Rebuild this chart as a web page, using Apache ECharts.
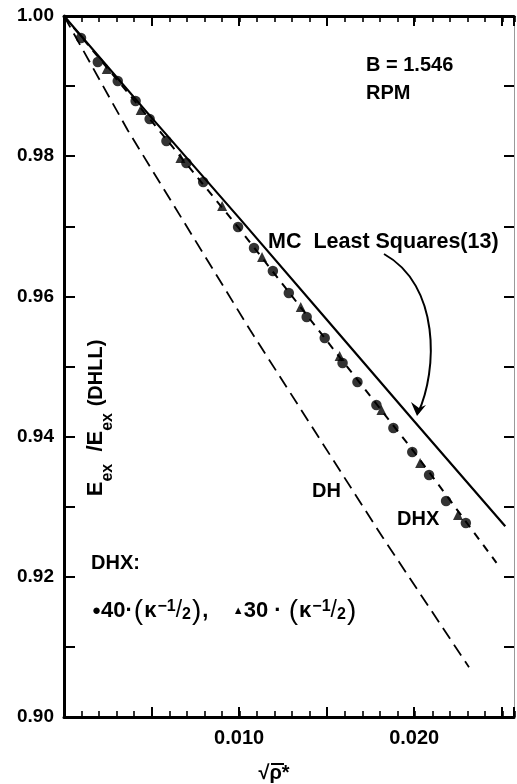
<!DOCTYPE html>
<html>
<head>
<meta charset="utf-8">
<script src="https://cdn.jsdelivr.net/npm/echarts@6/dist/echarts.min.js"></script>
<style>
  html, body { margin: 0; padding: 0; background: #fff; }
  #main { width: 517px; height: 784px; }
</style>
</head>
<body>
<div id="main"></div>
<script>
// values
const mcX = [0, 0.005, 0.010, 0.015, 0.020, 0.0252];
const mcY = [1.0, 0.9855, 0.9712, 0.9567, 0.9422, 0.9272];

const dhX = [0, 0.00364, 0.00818, 0.01063, 0.01818, 0.02313];
const dhY = [1.0, 0.9837, 0.9652, 0.9552, 0.9257, 0.9071];

const dhxX = [0, 0.005, 0.010, 0.015, 0.020, 0.0247];
const dhxY = [1.0, 0.9850, 0.9697, 0.9537, 0.9378, 0.9220];

// 40 (kappa^-1/2) points
const dotX = [0.00097, 0.00193, 0.00307, 0.00409, 0.00489, 0.00585, 0.00699, 0.00795,
  0.00994, 0.01085, 0.01193, 0.01284, 0.01386, 0.01489, 0.01591, 0.01676,
  0.01784, 0.01881, 0.01989, 0.02085, 0.02182, 0.02295];
const dotY = [0.99686, 0.99344, 0.99073, 0.98787, 0.98531, 0.98217, 0.97903, 0.97632,
  0.96990, 0.96690, 0.96362, 0.96049, 0.95706, 0.95407, 0.95050, 0.94779,
  0.94451, 0.94123, 0.93780, 0.93452, 0.93081, 0.92767];

// 30 (kappa^-1/2) points
const triX = [0.00244, 0.00438, 0.00665, 0.00903, 0.01131, 0.01352, 0.01574, 0.01813, 0.02034, 0.0225];
const triY = [0.99244, 0.98659, 0.97974, 0.97290, 0.96562, 0.95849, 0.95150, 0.94380, 0.93623, 0.92882];

const xTickLabels = ['0.010', '0.020'];
const yTickLabels = ['0.90', '0.92', '0.94', '0.96', '0.98', '1.00'];

const zip = (xs, ys) => xs.map((x, i) => [x, ys[i]]);

const FONT = '"Liberation Sans", Arial, sans-serif';
const gridBox = { left: 64, right: 2, top: 16, bottom: 67 };

const chart = echarts.init(document.getElementById('main'));

const xMajor = (pos, withLabels) => ({
  type: 'value', gridIndex: 0, position: pos, min: 0, max: 0.0257, interval: 0.005,
  splitLine: { show: false },
  axisLine: { onZero: false, lineStyle: { color: '#000', width: 3 } },
  axisTick: { inside: true, length: 10, lineStyle: { color: '#000', width: 2 } },
  axisLabel: {
    show: withLabels, margin: 11, color: '#000', fontSize: 20, fontWeight: 'bold', fontFamily: FONT,
    formatter: v => xTickLabels.includes(v.toFixed(3)) ? v.toFixed(3) : ''
  }
});
const xMinor = pos => ({
  type: 'value', gridIndex: 1, position: pos, min: 0, max: 0.0257, interval: 0.001,
  splitLine: { show: false },
  axisLine: { show: false, onZero: false },
  axisTick: { inside: true, length: 6, lineStyle: { color: '#000', width: 1.6 } },
  axisLabel: { show: false }
});

const option = {
  animation: false,
  backgroundColor: '#fff',
  grid: [Object.assign({}, gridBox), Object.assign({}, gridBox)],
  xAxis: [xMajor('bottom', true), xMajor('top', false), xMinor('bottom'), xMinor('top')],
  yAxis: [
    {
      type: 'value', gridIndex: 0, position: 'left', min: 0.90, max: 1.00, interval: 0.01,
      splitLine: { show: false },
      axisLine: { onZero: false, lineStyle: { color: '#000', width: 3 } },
      axisTick: { inside: true, length: 11, lineStyle: { color: '#000', width: 2 } },
      axisLabel: {
        margin: 10, color: '#000', fontSize: 19, fontWeight: 'bold', fontFamily: FONT,
        formatter: v => yTickLabels.includes(v.toFixed(2)) ? v.toFixed(2) : ''
      }
    },
    {
      type: 'value', gridIndex: 0, position: 'right', min: 0.90, max: 1.00, interval: 0.01,
      splitLine: { show: false },
      axisLine: { onZero: false, lineStyle: { color: '#999', width: 1 } },
      axisTick: { inside: true, length: 10, lineStyle: { color: '#000', width: 2 } },
      axisLabel: { show: false }
    },
    { type: 'value', gridIndex: 1, min: 0.90, max: 1.00, show: false, axisLine: { onZero: false } }
  ],
  series: [
    {
      name: 'MC Least Squares', type: 'line', xAxisIndex: 0, yAxisIndex: 0,
      data: zip(mcX, mcY), showSymbol: false, symbol: 'none',
      lineStyle: { color: '#000', width: 2.2 }
    },
    {
      name: 'DH', type: 'line', xAxisIndex: 0, yAxisIndex: 0,
      data: zip(dhX, dhY), showSymbol: false, symbol: 'none',
      lineStyle: { color: '#000', width: 1.8, type: [13, 7] }
    },
    {
      name: 'DHX', type: 'line', xAxisIndex: 0, yAxisIndex: 0,
      data: zip(dhxX, dhxY), showSymbol: false, symbol: 'none',
      lineStyle: { color: '#000', width: 2, type: [8, 7] }
    },
    {
      name: '40', type: 'scatter', xAxisIndex: 0, yAxisIndex: 0, z: 5,
      data: zip(dotX, dotY), symbol: 'circle', symbolSize: 10.5,
      itemStyle: { color: '#000' }
    },
    {
      name: '30', type: 'scatter', xAxisIndex: 0, yAxisIndex: 0, z: 5,
      data: zip(triX, triY), symbol: 'triangle', symbolSize: 10,
      itemStyle: { color: '#000' }
    }
  ],
  graphic: [
    { type: 'text', x: 366, y: 65, style: { text: 'B = 1.546', font: 'bold 20px ' + FONT, fill: '#000', verticalAlign: 'middle' } },
    { type: 'text', x: 366, y: 93, style: { text: 'RPM', font: 'bold 20px ' + FONT, fill: '#000', verticalAlign: 'middle' } },
    { type: 'text', x: 268, y: 242, style: { text: 'MC  Least Squares(13)', font: 'bold 21.5px ' + FONT, fill: '#000', verticalAlign: 'middle' } },
    { type: 'text', x: 312, y: 491, style: { text: 'DH', font: 'bold 20px ' + FONT, fill: '#000', verticalAlign: 'middle' } },
    { type: 'text', x: 397, y: 519, style: { text: 'DHX', font: 'bold 20px ' + FONT, fill: '#000', verticalAlign: 'middle' } },
    { type: 'text', x: 91, y: 563, style: { text: 'DHX:', font: 'bold 20px ' + FONT, fill: '#000', verticalAlign: 'middle' } },
    {
      type: 'text', x: 92, y: 611,
      style: {
        text: '{m|●}{t|40·}{p|(}{t|κ}{sup|−1}{sl|/}{sub|2}{p|)}{t|,    }{m2|▲}{t|30 · }{p|(}{t|κ}{sup|−1}{sl|/}{sub|2}{p|)}',
        verticalAlign: 'middle', fill: '#000',
        rich: {
          t: { fontSize: 22, fontWeight: 'bold', fontFamily: FONT, lineHeight: 30, verticalAlign: 'middle' },
          p: { fontSize: 28, fontFamily: FONT, lineHeight: 30, verticalAlign: 'middle', padding: [0, 1, 0, 1] },
          sl: { fontSize: 23, fontFamily: FONT, lineHeight: 30, verticalAlign: 'middle' },
          m: { fontSize: 15, fontFamily: FONT, lineHeight: 30, verticalAlign: 'middle' },
          m2: { fontSize: 11, fontFamily: FONT, lineHeight: 30, verticalAlign: 'middle' },
          sup: { fontSize: 16, fontWeight: 'bold', fontFamily: FONT, lineHeight: 16, verticalAlign: 'top', padding: [3, 0, 0, 1] },
          sub: { fontSize: 16, fontWeight: 'bold', fontFamily: FONT, lineHeight: 16, verticalAlign: 'bottom', padding: [0, 0, 3, 0] }
        }
      }
    },
    {
      type: 'text', x: 96, y: 418, rotation: Math.PI / 2,
      style: {
        text: '{b|E}{s|ex}{b|  /E}{s|ex}  {d|(DHLL)}',
        align: 'center', verticalAlign: 'middle', fill: '#000',
        rich: {
          b: { fontSize: 22, fontWeight: 'bold', fontFamily: FONT, lineHeight: 22, verticalAlign: 'top', padding: [0, 0, 10, 0] },
          s: { fontSize: 16, fontWeight: 'bold', fontFamily: FONT, lineHeight: 16, verticalAlign: 'top', padding: [15, 0, 0, 0] },
          d: { fontSize: 20, fontWeight: 'bold', fontFamily: FONT, lineHeight: 20, verticalAlign: 'top', padding: [1, 0, 0, 0] }
        }
      }
    },
    { type: 'text', x: 274, y: 773, style: { text: '√ρ*', font: 'bold 20px ' + FONT, fill: '#000', align: 'center', verticalAlign: 'middle' } },
    { type: 'line', shape: { x1: 271, y1: 764, x2: 284, y2: 764 }, style: { stroke: '#000', lineWidth: 2 } },
    // curved pointer from the label to the solid curve
    {
      type: 'bezierCurve',
      shape: { x1: 384, y1: 254, cpx1: 440, cpy1: 285, cpx2: 438, cpy2: 370, x2: 418, y2: 413 },
      style: { stroke: '#000', lineWidth: 2, fill: null }
    },
    {
      type: 'polygon',
      shape: { points: [[411, 402], [417, 416], [426, 405], [419, 408]] },
      style: { fill: '#000' }
    }
  ]
};

chart.setOption(option);
</script>
</body>
</html>
